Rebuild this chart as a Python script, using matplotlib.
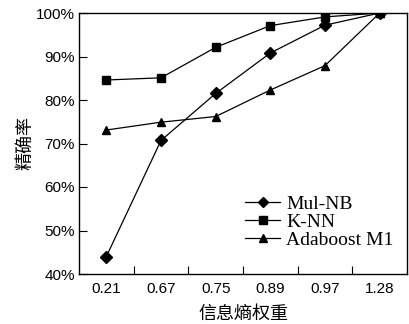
import matplotlib
matplotlib.use("Agg")
import matplotlib.pyplot as plt
import numpy as np

categories = ["0.21", "0.67", "0.75", "0.89", "0.97", "1.28"]
mul_nb = [44.0, 70.7, 81.5, 90.8, 97.2, 100.0]
knn = [84.6, 85.1, 92.1, 97.1, 99.1, 100.0]
adaboost = [73.1, 74.9, 76.2, 82.3, 87.9, 100.0]
yticks = [40, 50, 60, 70, 80, 90, 100]

cjk = ["Noto Sans CJK SC", "DejaVu Sans"]

fig = plt.figure(figsize=(4.10, 3.24), dpi=100)
ax = fig.add_axes([79/410, 50/324, 328/410, 261/324])

x = np.arange(len(categories))
lw = 0.9
ax.plot(x, mul_nb, color="black", lw=lw, marker="D", ms=6, label="Mul-NB")
ax.plot(x, knn, color="black", lw=lw, marker="s", ms=6, label="K-NN")
ax.plot(x, adaboost, color="black", lw=lw, marker="^", ms=6, label="Adaboost M1")

ax.set_xlim(-0.5, len(categories) - 0.5)
ax.set_ylim(40, 100)
ax.set_yticks(yticks)
ax.set_yticklabels([f"{v}%" for v in yticks], fontfamily="Liberation Sans", fontsize=11)
ax.set_xticks(x)
ax.set_xticklabels(categories, fontfamily="Liberation Sans", fontsize=11)
ax.set_xticks(np.arange(len(categories) - 1) + 0.5, minor=True)
ax.tick_params(axis="x", which="major", length=0, pad=6)
ax.tick_params(axis="x", which="minor", direction="in", length=6, width=0.8)
ax.tick_params(axis="y", direction="in", length=6, width=0.8, pad=3)
for s in ax.spines.values():
    s.set_linewidth(1.0)

ax.set_ylabel("精确率", fontfamily=cjk, fontsize=13, labelpad=1)
ax.set_xlabel("信息熵权重", fontfamily=cjk, fontsize=13, labelpad=6)

leg = ax.legend(loc="lower right", bbox_to_anchor=(1.0, 0.045), frameon=False,
                prop={"family": "Liberation Serif", "size": 14},
                handlelength=1.8, handletextpad=0.3, labelspacing=0.02,
                borderaxespad=0.3, markerscale=0.85)

fig.savefig("out.png", dpi=100)
